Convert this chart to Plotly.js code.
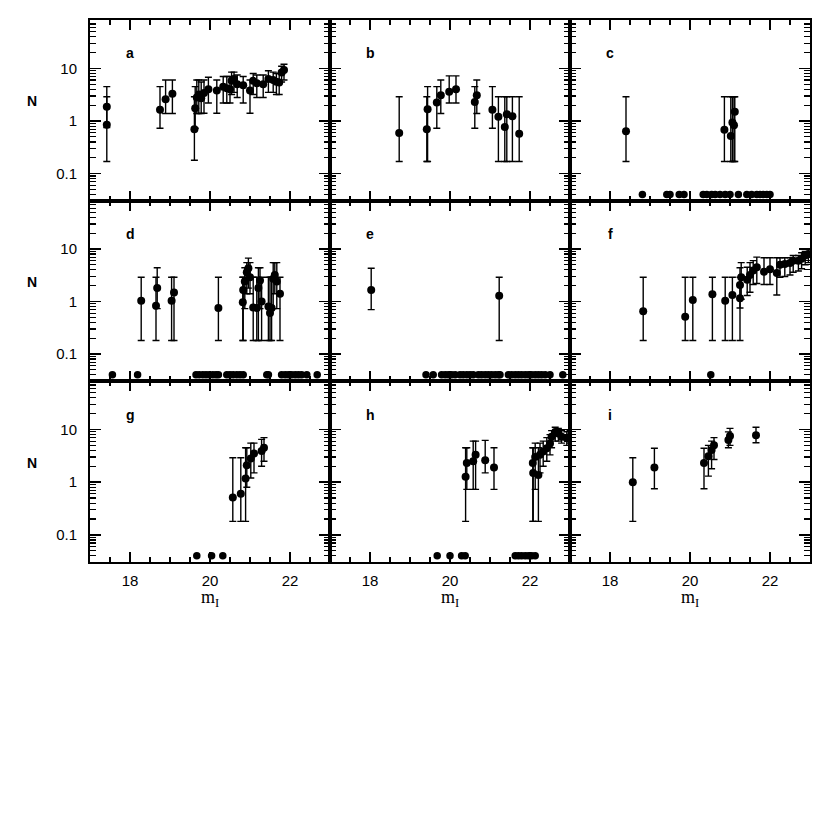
<!DOCTYPE html>
<html>
<head>
<meta charset="utf-8">
<script src="https://cdn.plot.ly/plotly-3.0.1.min.js"></script>
<style>html,body{margin:0;padding:0;background:#fff;}#chart{width:830px;height:830px;}</style>
</head>
<body>
<div id="chart"></div>
<script>
// ---------------- DATA ----------------
const panelLabels = ["a","b","c","d","e","f","g","h","i"];
const xTickVals = [18, 20, 22];
const xTickText = ["18", "20", "22"];

// panel a
const a_x  = [17.42,17.42,18.75,18.89,19.06,19.61,19.63,19.67,19.72,19.78,19.85,19.96,20.17,20.33,20.42,20.50,20.54,20.60,20.68,20.83,21.00,21.08,21.17,21.33,21.46,21.58,21.66,21.73,21.79,21.85];
const a_y  = [0.85,1.86,1.63,2.6,3.3,0.70,1.75,2.8,3.2,2.7,3.4,4.0,3.8,4.5,4.2,4.0,5.8,6.3,5.0,4.8,3.8,5.8,5.2,5.0,6.3,6.0,5.6,5.4,8.4,9.3];
const a_lo = [0.17,0.75,0.73,1.39,1.39,0.18,0.73,1.39,1.39,1.39,1.4,2.2,1.4,2.2,2.2,2.2,3.2,3.5,2.8,2.2,1.4,3.2,2.8,2.8,3.5,3.5,3.2,3.2,5.5,6.0];
const a_hi = [2.9,4.5,4.5,6.0,6.0,2.9,4.5,6.0,6.0,5.5,6.0,6.8,6.0,7.0,7.0,7.0,8.5,8.5,7.5,7.0,6.0,8.0,7.5,7.5,9.0,8.5,8.0,8.0,11,12];
const a_zx = [];
const a_zy = [];

// panel b
const b_x  = [18.73,19.42,19.44,19.67,19.77,19.98,20.15,20.62,20.67,21.06,21.21,21.37,21.42,21.56,21.73];
const b_y  = [0.59,0.70,1.68,2.25,3.1,3.6,4.0,2.3,3.1,1.63,1.2,0.77,1.35,1.23,0.57];
const b_lo = [0.17,0.17,0.17,0.73,1.39,2.2,2.2,0.73,1.39,0.73,0.17,0.17,0.17,0.17,0.17];
const b_hi = [2.9,2.9,4.5,4.5,6.0,7.2,7.2,4.5,6.0,4.5,2.9,2.9,2.9,2.9,2.9];
const b_zx = [];
const b_zy = [];

// panel c
const c_x  = [18.40,20.86,21.02,21.06,21.10,21.12];
const c_y  = [0.64,0.68,0.52,0.94,0.83,1.5];
const c_lo = [0.17,0.17,0.17,0.17,0.17,0.17];
const c_hi = [2.9,2.9,2.9,2.9,2.9,2.9];
const c_zx = [18.81,19.42,19.50,19.73,19.85,20.33,20.42,20.54,20.63,20.75,20.88,21.00,21.21,21.42,21.54,21.67,21.75,21.83,21.92,22.00];
const c_zy = [0.04,0.04,0.04,0.04,0.04,0.04,0.04,0.04,0.04,0.04,0.04,0.04,0.04,0.04,0.04,0.04,0.04,0.04,0.04,0.04];

// panel d
const d_x  = [18.28,18.65,18.68,19.04,19.10,20.21,20.82,20.83,20.87,20.92,20.96,21.00,21.08,21.17,21.21,21.25,21.29,21.46,21.50,21.54,21.58,21.62,21.67,21.75];
const d_y  = [1.03,0.83,1.8,1.03,1.48,0.75,0.97,1.66,2.4,3.6,4.3,2.9,0.77,0.75,1.8,2.5,1.0,0.8,0.6,0.75,2.7,3.2,2.4,1.4];
const d_lo = [0.18,0.18,0.73,0.18,0.18,0.18,0.18,0.18,0.73,1.4,1.8,1.4,0.18,0.18,0.18,0.73,0.18,0.18,0.18,0.18,0.73,1.4,0.73,0.18];
const d_hi = [2.9,2.9,4.4,2.9,2.9,2.9,2.9,2.9,4.4,5.5,6.7,5.5,2.9,2.9,4.4,4.4,2.9,2.9,2.9,2.9,5.5,5.5,5.5,2.9];
const d_zx = [17.56,18.19,19.65,19.73,19.82,19.90,19.98,20.07,20.15,20.21,20.42,20.50,20.58,20.67,20.75,20.83,21.42,21.46,21.79,21.88,21.96,22.04,22.13,22.21,22.29,22.42,22.68];
const d_zy = [0.04,0.04,0.04,0.04,0.04,0.04,0.04,0.04,0.04,0.04,0.04,0.04,0.04,0.04,0.04,0.04,0.04,0.04,0.04,0.04,0.04,0.04,0.04,0.04,0.04,0.04,0.04];

// panel e
const e_x  = [18.03,21.23];
const e_y  = [1.66,1.28];
const e_lo = [0.70,0.18];
const e_hi = [4.3,2.9];
const e_zx = [19.40,19.58,19.79,19.88,19.96,20.04,20.13,20.25,20.33,20.42,20.50,20.58,20.71,20.79,20.88,20.96,21.04,21.13,21.21,21.25,21.46,21.54,21.63,21.71,21.79,21.88,21.96,22.04,22.13,22.21,22.29,22.38,22.50,22.82];
const e_zy = [0.04,0.04,0.04,0.04,0.04,0.04,0.04,0.04,0.04,0.04,0.04,0.04,0.04,0.04,0.04,0.04,0.04,0.04,0.04,0.04,0.04,0.04,0.04,0.04,0.04,0.04,0.04,0.04,0.04,0.04,0.04,0.04,0.04,0.04];

// panel f
const f_x  = [18.83,19.88,20.07,20.56,20.88,21.06,21.25,21.25,21.28,21.43,21.50,21.58,21.67,21.85,22.00,22.17,22.25,22.37,22.50,22.58,22.71,22.79,22.88,22.96];
const f_y  = [0.65,0.51,1.07,1.38,1.03,1.33,1.15,2.05,2.9,2.6,3.2,3.9,4.5,3.7,4.1,3.5,5.0,5.2,5.4,6.0,6.0,6.5,7.5,8.0];
const f_lo = [0.18,0.18,0.18,0.18,0.18,0.18,0.18,0.75,1.1,1.3,1.5,2.1,2.2,2.1,2.1,1.33,2.9,3.0,3.2,3.6,3.8,4.2,5.0,5.5];
const f_hi = [2.9,2.9,2.9,2.9,2.9,2.9,2.9,4.4,5.5,4.5,5.5,6.0,7.0,6.8,6.8,6.8,6.8,6.8,6.8,7.5,7.5,8.5,9.0,10];
const f_zx = [20.52];
const f_zy = [0.04];

// panel g
const g_x  = [20.57,20.77,20.89,20.92,21.02,21.10,21.29,21.35];
const g_y  = [0.51,0.6,1.18,2.1,2.8,3.5,3.9,4.5];
const g_lo = [0.18,0.18,0.18,0.8,1.2,1.5,2.0,2.5];
const g_hi = [2.9,2.9,4.5,4.5,5.5,5.5,6.5,7.0];
const g_zx = [19.67,20.04,20.32];
const g_zy = [0.04,0.04,0.04];

// panel h
const h_x  = [20.39,20.42,20.58,20.64,20.88,21.10,22.07,22.08,22.13,22.21,22.25,22.33,22.42,22.50,22.54,22.63,22.71,22.79,22.92,23.00];
const h_y  = [1.27,2.3,2.5,3.3,2.6,1.9,2.3,1.5,3.0,1.37,3.3,3.8,4.4,5.4,7.3,9.0,8.4,7.3,6.8,7.3];
const h_lo = [0.18,0.73,0.73,0.73,1.5,0.73,0.18,0.18,0.73,0.18,1.5,2.0,2.5,3.3,4.5,6.0,6.0,5.5,5.0,5.5];
const h_hi = [4.5,4.5,6.0,6.0,6.2,4.5,4.5,4.5,5.5,4.5,5.5,6.0,7.0,8.0,9.5,11,10.5,9.5,9.0,9.5];
const h_zx = [19.68,20.00,20.29,20.38,21.63,21.71,21.79,21.88,21.96,22.04,22.13];
const h_zy = [0.04,0.04,0.04,0.04,0.04,0.04,0.04,0.04,0.04,0.04,0.04];

// panel i
const i_x  = [18.57,19.11,20.35,20.46,20.54,20.60,20.96,21.00,21.65];
const i_y  = [1.0,1.9,2.3,3.1,4.1,5.0,6.3,7.5,7.8];
const i_lo = [0.18,0.75,0.75,1.3,1.8,2.7,4.5,5.0,5.6];
const i_hi = [2.9,4.4,4.4,5.0,6.0,7.0,9.0,10.5,11];
const i_zx = [];
const i_zy = [];

const panels = [
  [a_x,a_y,a_lo,a_hi,a_zx,a_zy],
  [b_x,b_y,b_lo,b_hi,b_zx,b_zy],
  [c_x,c_y,c_lo,c_hi,c_zx,c_zy],
  [d_x,d_y,d_lo,d_hi,d_zx,d_zy],
  [e_x,e_y,e_lo,e_hi,e_zx,e_zy],
  [f_x,f_y,f_lo,f_hi,f_zx,f_zy],
  [g_x,g_y,g_lo,g_hi,g_zx,g_zy],
  [h_x,h_y,h_lo,h_hi,h_zx,h_zy],
  [i_x,i_y,i_lo,i_hi,i_zx,i_zy]
];

// ---------------- LAYOUT ----------------
const W = 830, H = 830;
const colEdges = [90, 330, 570, 810];
const rowEdges = [20, 200.7, 381, 562];
const FONT = "Liberation Sans, Arial, sans-serif";

const traces = [];
const layout = {
  width: W, height: H,
  margin: {l:0, r:0, t:0, b:0},
  paper_bgcolor: "#fff", plot_bgcolor: "#fff",
  showlegend: false,
  annotations: [],
  font: {family: FONT, color: "#000", size: 13}
};

for (let p = 0; p < 9; p++) {
  const r = Math.floor(p / 3), c = p % 3;
  const n = p + 1;
  const xa = "xaxis" + (n === 1 ? "" : n), ya = "yaxis" + (n === 1 ? "" : n);
  const xr = "x" + (n === 1 ? "" : n), yr = "y" + (n === 1 ? "" : n);
  const [px, py, plo, phi, zx, zy] = panels[p];

  traces.push({
    type: "scatter", mode: "markers", x: px, y: py, xaxis: xr, yaxis: yr,
    marker: {color: "#000", size: 8},
    error_y: {type: "data", symmetric: false,
      array: py.map((v, k) => phi[k] - v),
      arrayminus: py.map((v, k) => v - plo[k]),
      color: "#000", thickness: 1.4, width: 3.5},
    hoverinfo: "skip"
  });
  if (zx.length) {
    traces.push({
      type: "scatter", mode: "markers", x: zx, y: zy, xaxis: xr, yaxis: yr,
      marker: {color: "#000", size: 7.5}, hoverinfo: "skip"
    });
  }

  layout[xa] = {
    domain: [colEdges[c] / W, colEdges[c + 1] / W],
    anchor: yr, range: [17, 23],
    tickmode: "array", tickvals: xTickVals, ticktext: xTickText,
    ticks: "inside", ticklen: 10, tickwidth: 1.4, tickcolor: "#000",
    minor: {ticks: "inside", dtick: 0.5, tick0: 17, ticklen: 5, tickwidth: 1.3, tickcolor: "#000", showgrid: false},
    showline: true, linecolor: "#000", linewidth: 2, mirror: "allticks",
    showgrid: false, zeroline: false,
    showticklabels: r === 2,
    tickfont: {family: FONT, size: 15, color: "#000"},
    ticklabelstandoff: 4
  };
  layout[ya] = {
    domain: [1 - rowEdges[r + 1] / H, 1 - rowEdges[r] / H],
    anchor: xr, type: "log", range: [-1.515, 1.92],
    tickmode: "linear", tick0: 0, dtick: 1,
    ticks: "inside", ticklen: 11, tickwidth: 1.4, tickcolor: "#000",
    minor: {ticks: "inside", dtick: "D1", ticklen: 6, tickwidth: 1.2, tickcolor: "#000", showgrid: false},
    showline: true, linecolor: "#000", linewidth: 2, mirror: "allticks",
    showgrid: false, zeroline: false,
    showticklabels: c === 0,
    tickfont: {family: FONT, size: 15, color: "#000"},
    ticklabelstandoff: 8
  };

  layout.annotations.push({
    xref: xr, yref: yr, x: 18.0, y: r === 0 ? 1.3 : 1.28,
    text: panelLabels[p], showarrow: false,
    font: {family: FONT, size: 14, color: "#000", weight: "bold"},
    xanchor: "center", yanchor: "middle"
  });

  if (c === 0) {
    layout.annotations.push({
      xref: "paper", yref: "paper", x: 32 / W,
      y: 1 - ((rowEdges[r] + rowEdges[r + 1]) / 2 - 9) / H,
      text: "N", showarrow: false,
      font: {family: FONT, size: 14, color: "#000", weight: "bold"},
      xanchor: "center", yanchor: "middle"
    });
  }
  if (r === 2) {
    layout.annotations.push({
      xref: "paper", yref: "paper",
      x: ((colEdges[c] + colEdges[c + 1]) / 2) / W, y: 1 - 598 / H,
      text: "m<sub>I</sub>", showarrow: false,
      font: {family: "Liberation Serif, Times New Roman, serif", size: 18, color: "#000"},
      xanchor: "center", yanchor: "middle"
    });
  }
}

Plotly.newPlot("chart", traces, layout, {staticPlot: true, displayModeBar: false});
</script>
</body>
</html>
